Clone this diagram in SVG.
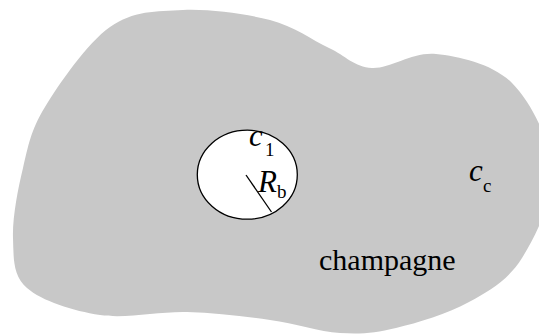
<svg xmlns="http://www.w3.org/2000/svg" width="539" height="335" viewBox="0 0 539 335">
<style>
.t{font-family:"Liberation Serif","Times New Roman",serif;fill:#000}
.i{font-style:italic;font-size:31px}
.s{font-size:19px;font-style:normal}
</style>
<rect width="539" height="335" fill="#fff"/>
<g id="champagne-region">
<path fill="#c8c8c8" d="M 110,27 C 133,10.8 156.3,11.2 183,10 C 209.7,8.8 245.7,13.7 270,20 C 294.3,26.3 312,40 329,48 C 346,56 354.2,67 372,68 C 389.8,69 412.7,51.5 436,54 C 459.3,56.5 492.7,63.7 512,83 C 531.3,102.3 550.3,140.8 552,170 C 553.7,199.2 535.8,236 522,258 C 508.2,280 490,290.3 469,302 C 448,313.7 417.5,322.8 396,328 C 374.5,333.2 361,334.3 340,333 C 319,331.7 295.5,323.5 270,320 C 244.5,316.5 215.3,312.8 187,312 C 158.7,311.2 126.7,319 100,315 C 73.3,311 41.5,300.8 27,288 C 12.5,275.2 13.7,258 13,238 C 12.3,218 17.7,189.8 23,168 C 28.3,146.2 30.5,130.5 45,107 C 59.5,83.5 87,43.2 110,27 Z"/>
<text class="t" x="319" y="270" font-size="30">champagne</text>
<text class="t i" x="469" y="181">c<tspan class="s" x="483" y="192">c</tspan></text>
</g>
<g id="bubble">
<ellipse cx="247.3" cy="174.7" rx="50" ry="44.5" fill="#fff" stroke="#000" stroke-width="1.3"/>
<line x1="246" y1="175" x2="271.5" y2="212" stroke="#000" stroke-width="1.3"/>
<text class="t i" x="249" y="146">c<tspan class="s" x="265" y="156">1</tspan></text>
<text class="t i" x="258" y="192">R<tspan class="s" x="277" y="198">b</tspan></text>
</g>
</svg>
